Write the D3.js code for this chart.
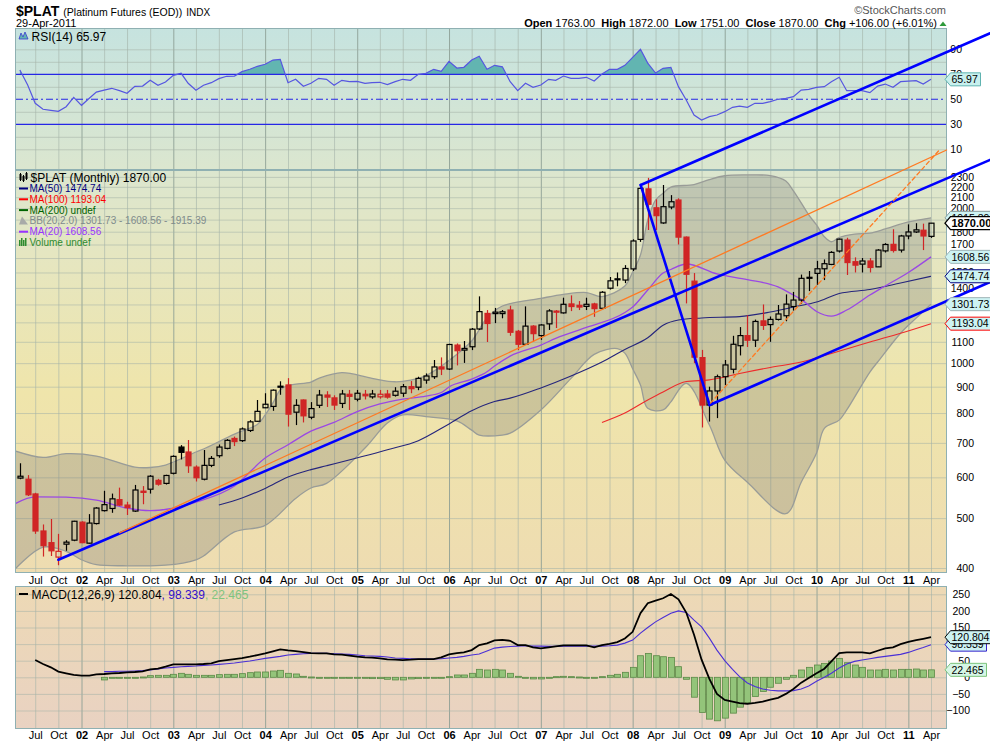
<!DOCTYPE html>
<html>
<head>
<meta charset="utf-8">
<script src="https://cdn.jsdelivr.net/npm/d3@7"></script>
<style>
  body { margin: 0; background: #fff; }
  svg { display: block; }
  svg text { font-family: "Liberation Sans", Arial, sans-serif; }
</style>
</head>
<body>
<script>
// $PLAT monthly candles, May 2001 .. Apr 2011
var candleStart = "2001-05";
var opens  = [598,595,557,472,448,420,445,453,
  491,447,488,517,522,543,530,516,564,569,592,584,
  611,687,672,628,595,633,661,683,714,707,740,771,
  819,824,902,907,803,848,785,828,867,856,835,870,
  851,870,860,860,871,866,874,900,898,927,941,983,
  974,1084,1060,1076,1165,1249,1248,1248,1268,1153,1088,1180,
  1131,1192,1262,1252,1303,1295,1289,1303,1278,1398,1458,1450,
  1524,1739,2180,2003,1872,2010,2074,1757,1443,1025,829,883,
  941,973,1081,1131,1108,1208,1188,1216,1236,1288,1326,1468,
  1494,1525,1555,1651,1734,1574,1557,1579,1538,1652,1701,1658,
  1766,1798,1812,1763];
var highs  = [639,606,560,486,498,466,453,494,
  493,509,525,565,558,573,538,580,577,606,596,607,
  662,693,709,633,678,660,695,712,720,750,775,848,
  874,889,922,935,851,850,840,887,882,866,887,887,
  887,887,887,887,887,898,911,923,941,955,1014,1026,
  1090,1092,1104,1170,1348,1268,1280,1268,1293,1160,1289,1185,
  1190,1273,1268,1340,1354,1320,1340,1310,1380,1470,1500,1550,
  1740,2195,2290,2080,2218,2120,2090,1762,1496,1061,900,950,
  1014,1130,1175,1239,1215,1300,1232,1297,1360,1375,1486,1510,
  1580,1590,1650,1745,1752,1605,1600,1600,1665,1710,1820,1775,
  1860,1870,1866,1872];
var lows   = [595,552,466,421,422,405,432,451,
  447,446,486,515,512,528,507,514,532,558,578,581,
  608,650,612,589,592,628,655,680,690,703,735,769,
  818,808,868,753,758,767,778,818,822,811,818,811,
  843,850,853,853,853,861,860,874,886,912,932,948,
  970,990,1001,1060,1160,1099,1196,1222,1130,1060,1085,1100,
  1110,1160,1170,1248,1262,1268,1268,1230,1270,1390,1410,1430,
  1510,1720,1814,1814,1865,1990,1700,1306,1000,750,770,782,
  907,955,1035,1075,1075,1160,1100,1210,1206,1265,1305,1380,
  1420,1450,1550,1640,1483,1500,1500,1500,1540,1640,1640,1640,
  1740,1790,1658,1751];
var closes = [603,555,472,442,432,431,449,493,
  448,489,523,531,545,530,524,567,561,603,582,605,
  659,671,632,599,633,653,687,708,704,745,769,806,
  832,886,899,796,828,790,816,867,859,829,871,862,
  874,864,871,870,859,882,900,892,934,944,983,974,
  1087,1057,1068,1164,1259,1194,1256,1258,1148,1088,1180,1141,
  1186,1263,1256,1301,1288,1285,1301,1276,1373,1445,1452,1527,
  1727,2185,2035,1934,2013,2058,1757,1488,1027,829,883,941,
  992,1088,1131,1108,1205,1184,1216,1246,1302,1326,1461,1463,
  1525,1560,1641,1741,1568,1550,1579,1534,1658,1700,1655,1766,
  1798,1815,1766,1870];

// RSI(14), May 2001 .. Apr 2011
var rsiStart = "2001-05";
var rsiValues = [73.4,61.4,46.8,42,41.2,40.4,44.1,51.6,
  45.2,50.8,55.8,57.4,58.8,56.9,54.8,60.4,60.6,65.2,61.2,63.8,
  69.2,70.8,62.8,57.2,61.2,63.3,66.5,68.4,68.6,72.1,74,76.4,
  78,81.4,82,63.3,66,60.4,62.8,66.8,66,61.2,65.2,64.1,
  64.4,62.8,63.3,63.6,61.7,64.1,66,65.2,70,70.8,74,72.4,
  80.4,75,75.6,81.4,84.4,74,77.2,76,64.1,56.9,62.8,59.6,
  61.4,66,65.2,68.6,66.8,66.8,67.6,64.6,70.2,74,74,77.2,
  83.5,90,79,71,74.8,75.6,60.1,49.4,37.4,33.4,36.1,37.4,
  40.1,43.6,44.6,43.6,46.8,46.8,48.1,50,50.8,52.1,57.4,58,
  59.6,60.1,64.1,67.6,56.9,56.9,56.9,55.3,60.6,62.2,59.6,64.1,
  64.6,64.9,62.2,65.97];

// MACD(12,26,9)
var macdStart = "2001-07";
var macdValues = [52,40,30,17,12,7,
  5,5,9,10,12,13,15,16,18,24,26,32,
  39,39,39,39,40,42,49,52,55,58,62,67,
  72,78,84,81,79,76,73,72,72,69,68,65,
  62,60,59,57,54,53,52,53,55,55,55,60,
  69,73,75,82,97,102,111,113,110,97,97,90,
  87,90,93,96,96,96,96,90,97,101,106,117,
  137,193,223,231,238,251,235,195,128,53,-5,-50,
  -68,-73,-78,-80,-77,-73,-67,-62,-50,-35,-16,-2,
  12,26,48,73,75,75,75,72,80,87,90,100,
  107,112,116,120.804];
var signalStart = "2002-04";
var signalValues = [17,17,18,18,19,20,22,25,28,
  30,32,33,34,36,37,39,41,43,46,49,53,
  57,60,63,67,69,71,72,72,72,71,70,69,
  67,65,64,63,61,58,57,56,55,55,55,56,
  58,60,63,67,70,79,88,91,93,94,95,94,
  94,93,93,94,94,94,94,94,94,95,97,103,
  112,133,150,167,180,193,200,195,172,152,118,82,
  50,24,2,-17,-28,-35,-39,-41,-41,-40,-35,-26,
  -12,0,12,28,40,48,52,56,60,63,66,69,
  75,83,90,98.339];
var histValues = [-8,-3,-3,-3,-1,1,5,6,6,
  9,12,9,6,6,6,8,9,9,11,14,16,
  16,19,21,12,10,3,1,0,0,-1,-1,-1,
  -3,-3,-4,-4,-6,-8,-8,-5,-4,-2,-2,-1,
  2,7,7,12,24,22,24,22,12,3,0,-5,
  -5,-2,2,3,2,1,0,-3,2,6,9,15,
  30,65,72,65,62,60,32,-6,-60,-106,-126,-131,
  -123,-108,-90,-76,-58,-43,-30,-18,-6,6,22,30,
  37,42,49,57,44,37,30,22,22,24,22,24,
  24,25,22,22.465];

// overlays, read at the months where the line could be read
var ma20 = [["2001-04",530],["2001-07",550],["2001-11",549],["2002-03",542],["2002-07",523],
  ["2002-10",517],["2003-01",523],["2003-04",537],["2003-09",577],["2004-01",654],["2004-04",694],
  ["2004-07",738],["2004-10",767],["2005-01",805],["2005-04",833],["2005-07",851],["2005-10",863],
  ["2005-12",877],["2006-01",899],["2006-04",931],["2006-06",962],["2006-07",987],["2006-09",1032],
  ["2007-01",1084],["2007-03",1117],["2007-07",1173],["2007-12",1254],["2008-01",1285],["2008-03",1387],
  ["2008-05",1496],["2008-06",1520],["2008-08",1558],["2008-12",1490],["2009-04",1453],["2009-08",1406],
  ["2009-10",1356],["2009-11",1330],["2010-01",1260],["2010-03",1234],["2010-05",1268],["2010-08",1356],
  ["2010-10",1412],["2011-01",1500],["2011-04",1608.56]];
var ma50 = [["2003-07",530],["2003-10",547],["2004-01",571],["2004-04",601],["2004-07",621],
  ["2004-09",632],["2005-05",679],["2005-09",707],["2006-01",762],["2006-04",808],["2006-07",842],
  ["2006-09",855],["2007-01",895],["2007-05",944],["2007-09",1005],["2007-12",1063],["2008-03",1120],
  ["2008-05",1185],["2008-07",1213],["2008-10",1224],["2009-03",1231],["2009-07",1257],["2009-10",1285],
  ["2010-01",1314],["2010-04",1365],["2010-08",1390],["2010-12",1431],["2011-04",1474.74]];
var ma100 = [["2007-09",767],["2007-12",800],["2008-03",848],["2008-05",879],["2008-08",921],
  ["2008-11",928],["2009-03",955],["2009-07",981],["2009-11",1005],["2010-03",1044],["2010-08",1099],
  ["2010-12",1143],["2011-04",1193.04]];
var bbUpper = [["2001-04",678],["2001-08",656],["2001-11",667],["2002-03",660],["2002-08",628],
  ["2002-10",627],["2002-12",634],["2003-04",672],["2003-05",681],["2003-09",728],["2003-12",760],
  ["2004-01",793],["2004-02",837],["2004-03",887],["2004-04",905],["2004-07",919],["2004-08",934],
  ["2004-11",958],["2005-03",934],["2005-06",920],["2005-08",927],["2005-10",946],["2006-01",1012],
  ["2006-04",1104],["2006-06",1224],["2006-08",1291],["2007-01",1336],["2007-04",1360],["2007-07",1371],
  ["2007-09",1347],["2007-12",1412],["2008-01",1503],["2008-02",1622],["2008-03",1897],["2008-04",2074],
  ["2008-05",2138],["2008-06",2198],["2008-09",2222],["2008-11",2273],["2009-01",2312],["2009-04",2320],
  ["2009-07",2313],["2009-09",2258],["2009-10",2160],["2009-11",2048],["2009-12",1940],["2010-01",1855],
  ["2010-02",1760],["2010-03",1721],["2010-04",1754],["2010-06",1781],["2010-08",1789],["2010-10",1822],
  ["2011-01",1880],["2011-04",1915.39]];
var bbLower = [["2001-04",393],["2001-08",439],["2001-11",431],["2002-01",415],["2002-03",406],
  ["2002-07",404],["2002-12",405],["2003-04",415],["2003-05",422],["2003-09",470],["2004-01",484],
  ["2004-05",546],["2004-07",572],["2004-09",584],["2005-02",684],["2005-05",765],["2005-07",793],
  ["2005-10",787],["2006-02",772],["2006-04",741],["2006-05",725],["2006-08",725],["2006-09",731],
  ["2007-01",811],["2007-05",934],["2007-08",1040],["2007-11",1067],["2007-12",1046],["2008-01",975],
  ["2008-02",907],["2008-03",817],["2008-05",811],["2008-06",841],["2008-08",914],["2008-11",758],
  ["2009-01",648],["2009-04",587],["2009-09",510],["2009-11",587],["2010-01",669],["2010-02",747],
  ["2010-04",775],["2010-05",811],["2010-08",961],["2010-09",1005],["2010-12",1143],["2011-02",1223],
  ["2011-04",1301.73]];

// hand drawn annotations: [date, price] end points
var trendLines = [
  { from: ["2001-10-01", 415],  to: ["2011-11-22", 2482], color: "#0000ff", width: 2.6 },
  { from: ["2008-02-02", 2218], to: ["2011-11-22", 4372], color: "#0000ff", width: 2.6 },
  { from: ["2008-02-02", 2218], to: ["2008-11-02", 829],  color: "#0000ff", width: 2.6 },
  { from: ["2008-11-02", 829],  to: ["2011-11-22", 1437], color: "#0000ff", width: 2.6 },
  { from: ["2002-06-01", 468],  to: ["2011-06-02", 2594], color: "#ff7a22", width: 1.3 },
  { from: ["2008-11-05", 836],  to: ["2011-05-07", 2602], color: "#ff7a22", width: 1.3, dash: "4,3" }
];

// axis labels (levels that sit under a value tag are left out, as in the picture)
var priceGrid  = [400,500,600,700,800,900,1000,1100,1200,1300,1400,1500,1600,1700,1800,1900,2000,2100,2200,2300];
var priceTicks = [400,500,600,700,800,900,1000,1100,1400,1500,1700,1800,2000,2100,2200,2300];
var rsiTicks = [90,70,50,30,10];
var rsiGrid = [10,20,40,60,80,90];
var macdGrid  = [250,200,150,100,50,0,-50,-100];
var macdTicks = [250,200,150,50,0,-50,-100];
var headerLabels = ["Open","High","Low","Close","Chg"];
var headerValues = ["1763.00","1872.00","1751.00","1870.00","+106.00 (+6.01%)"];
var monthNames = ["Jan","Feb","Mar","Apr","May","Jun","Jul","Aug","Sep","Oct","Nov","Dec"];

var parseM = d3.timeParse("%Y-%m");
var parseD = d3.timeParse("%Y-%m-%d");
function monthSeq(start, n) {
  return d3.range(n).map(function (i) { return d3.timeMonth.offset(parseM(start), i); });
}
function pairs(arr) { return arr.map(function (p) { return { date: parseM(p[0]), v: p[1] }; }); }

// layout
var L = 16, R = 946;
var rsiTop = 29, rsiBot = 170, mainTop = 170, mainBot = 572, macdTop = 587, macdBot = 728;

var x  = d3.scaleTime().domain([new Date(2002, 0, 1), new Date(2011, 3, 1)]).range([81.5, 931]);
var yR = d3.scaleLinear().domain([0, 100]).range([161.8, 36.8]);
var yP = d3.scaleLog().domain([400, 2300]).range([568, 176.9]);
var yM = d3.scaleLinear().domain([-100, 250]).range([710.5, 594.3]);

var svg = d3.select("body").append("svg").attr("width", 990).attr("height", 744);
var defs = svg.append("defs");

var grad = defs.append("linearGradient").attr("id", "bg")
  .attr("gradientUnits", "userSpaceOnUse")
  .attr("x1", 0).attr("y1", rsiTop).attr("x2", 0).attr("y2", macdBot);
[[0, "#c6e3df"], [0.2, "#dbe6cf"], [0.32, "#e5e6c1"], [0.52, "#efe5ab"],
 [0.777, "#eedcb1"], [0.8, "#edd9b5"], [1, "#e9d2c2"]].forEach(function (s) {
  grad.append("stop").attr("offset", s[0]).attr("stop-color", s[1]);
});

function clip(id, top, bot) {
  defs.append("clipPath").attr("id", id).append("rect")
    .attr("x", L).attr("y", top).attr("width", R - L).attr("height", bot - top);
}
clip("cRsi", rsiTop, rsiBot);
clip("cMain", mainTop, mainBot);
clip("cMacd", macdTop, macdBot);
defs.append("clipPath").attr("id", "cRsiHi").append("rect")
  .attr("x", L).attr("y", rsiTop).attr("width", R - L).attr("height", yR(70) - rsiTop);

// panel backgrounds
[[rsiTop, rsiBot], [mainTop, mainBot], [macdTop, macdBot]].forEach(function (p) {
  svg.append("rect").attr("x", L).attr("y", p[0]).attr("width", R - L).attr("height", p[1] - p[0])
    .attr("fill", "url(#bg)");
});

// grid
var quarters = d3.timeMonth.every(3).range(new Date(2001, 6, 1), new Date(2011, 4, 1));
function vGrid(top, bot) {
  var g = svg.append("g").attr("transform", "translate(0," + top + ")")
    .call(d3.axisBottom(x).tickValues(quarters).tickSize(bot - top).tickFormat(""));
  g.select(".domain").remove();
  g.selectAll(".tick line")
    .attr("stroke", function (d) { return d.getMonth() === 0 ? "#8a9c92" : "#a4b2a8"; })
    .attr("stroke-opacity", function (d) { return d.getMonth() === 0 ? 0.85 : 0.6; });
}
function hGrid(scale, ticks) {
  var g = svg.append("g").attr("transform", "translate(" + R + ",0)")
    .call(d3.axisLeft(scale).tickValues(ticks).tickSize(R - L).tickFormat(""));
  g.select(".domain").remove();
  g.selectAll(".tick line").attr("stroke", "#a4b2a8").attr("stroke-opacity", 0.55);
}
vGrid(rsiTop, rsiBot); hGrid(yR, rsiGrid);
vGrid(mainTop, mainBot); hGrid(yP, priceGrid);
vGrid(macdTop, macdBot); hGrid(yM, macdGrid);

// ---------- RSI panel ----------
var rsi = monthSeq(rsiStart, rsiValues.length).map(function (d, i) { return { date: d, v: rsiValues[i] }; });
var gR = svg.append("g").attr("clip-path", "url(#cRsi)");
gR.append("path").datum(rsi)
  .attr("clip-path", "url(#cRsiHi)")
  .attr("fill", "#62b5b1")
  .attr("d", d3.area().x(function (d) { return x(d.date); }).y0(yR(70)).y1(function (d) { return yR(d.v); }));
[70, 30].forEach(function (v) {
  gR.append("line").attr("x1", L).attr("x2", R).attr("y1", yR(v)).attr("y2", yR(v))
    .attr("stroke", "#2626e6").attr("stroke-width", 1.2);
});
gR.append("line").attr("x1", L).attr("x2", R).attr("y1", yR(50)).attr("y2", yR(50))
  .attr("stroke", "#2626e6").attr("stroke-width", 1.1).attr("stroke-dasharray", "7,3,2,3");
gR.append("path").datum(rsi).attr("fill", "none").attr("stroke", "#5656e0").attr("stroke-width", 1.2)
  .attr("d", d3.line().x(function (d) { return x(d.date); }).y(function (d) { return yR(d.v); }));

// ---------- main panel ----------
var gP = svg.append("g").attr("clip-path", "url(#cMain)");
var curve = d3.curveCatmullRom.alpha(0.5);
var upper = pairs(bbUpper), lower = pairs(bbLower);
var bandLine = d3.line().curve(curve).x(function (d) { return x(d.date); }).y(function (d) { return yP(d.v); });
var upPath = bandLine(upper);
var lowRevPath = bandLine(lower.slice().reverse());
gP.append("path").attr("d", upPath + "L" + lowRevPath.slice(1) + "Z")
  .attr("fill", "#707070").attr("fill-opacity", 0.27);
[upPath, bandLine(lower)].forEach(function (d) {
  gP.append("path").attr("d", d).attr("fill", "none").attr("stroke", "#999c98").attr("stroke-width", 1.3);
});

var maLine = d3.line().curve(d3.curveMonotoneX)
  .x(function (d) { return x(d.date); }).y(function (d) { return yP(d.v); });
[[ma50, "#25257c", 1.1], [ma100, "#ee2b2b", 1.1], [ma20, "#9a48e4", 1.3]].forEach(function (m) {
  gP.append("path").datum(pairs(m[0])).attr("d", maLine)
    .attr("fill", "none").attr("stroke", m[1]).attr("stroke-width", m[2]);
});

var candles = monthSeq(candleStart, closes.length).map(function (d, i) {
  return { date: d, o: opens[i], h: highs[i], l: lows[i], c: closes[i], prev: i ? closes[i - 1] : opens[i] };
});
candles.forEach(function (c) {
  c.xc = Math.round(x(c.date));
  c.col = c.c < c.prev ? "#d02525" : "#000";
  c.top = yP(Math.max(c.o, c.c));
  c.bot = yP(Math.min(c.o, c.c));
});
var cg = gP.selectAll(".candle").data(candles).enter().append("g").attr("class", "candle");
cg.append("line").attr("x1", function (c) { return c.xc + 0.5; }).attr("x2", function (c) { return c.xc + 0.5; })
  .attr("y1", function (c) { return yP(c.h); }).attr("y2", function (c) { return c.top; })
  .attr("stroke", function (c) { return c.col; }).attr("stroke-width", 1.2);
cg.append("line").attr("x1", function (c) { return c.xc + 0.5; }).attr("x2", function (c) { return c.xc + 0.5; })
  .attr("y1", function (c) { return c.bot; }).attr("y2", function (c) { return yP(c.l); })
  .attr("stroke", function (c) { return c.col; }).attr("stroke-width", 1.2);
cg.append("rect")
  .attr("x", function (c) { return c.xc - 2; }).attr("width", 5)
  .attr("y", function (c) { return c.top; })
  .attr("height", function (c) { return Math.max(1, c.bot - c.top); })
  .attr("fill", function (c) { return c.c >= c.o ? "none" : c.col; })
  .attr("stroke", function (c) { return c.col; }).attr("stroke-width", 1.2);

// ---------- MACD panel ----------
var gM = svg.append("g").attr("clip-path", "url(#cMacd)");
var histDates = monthSeq(signalStart, histValues.length);
gM.selectAll(".hb").data(histValues).enter().append("rect")
  .attr("x", function (v, i) { return Math.round(x(histDates[i])) - 2.5; })
  .attr("width", 6)
  .attr("y", function (v) { return Math.min(yM(v), yM(0)); })
  .attr("height", function (v) { return Math.max(1, Math.abs(yM(v) - yM(0))); })
  .attr("fill", "#93c47a").attr("stroke", "#5c8a47").attr("stroke-width", 0.8);
var macd = monthSeq(macdStart, macdValues.length).map(function (d, i) { return { date: d, v: macdValues[i] }; });
var sig = monthSeq(signalStart, signalValues.length).map(function (d, i) { return { date: d, v: signalValues[i] }; });
var mLine = d3.line().x(function (d) { return x(d.date); }).y(function (d) { return yM(d.v); });
gM.append("path").datum(sig).attr("d", mLine).attr("fill", "none").attr("stroke", "#4a2fd6").attr("stroke-width", 1.1);
gM.append("path").datum(macd).attr("d", mLine).attr("fill", "none").attr("stroke", "#000").attr("stroke-width", 1.8);

// panel borders
[[rsiTop, rsiBot], [mainTop, mainBot], [macdTop, macdBot]].forEach(function (p) {
  svg.append("rect").attr("x", L - 0.5).attr("y", p[0] - 0.5).attr("width", R - L + 1).attr("height", p[1] - p[0] + 1)
    .attr("fill", "none").attr("stroke", "#8fb0b2");
});

// ---------- axes ----------
function rightLabels(scale, ticks, xEnd, fmt) {
  var g = svg.append("g").attr("transform", "translate(" + R + ",0)")
    .call(d3.axisRight(scale).tickValues(ticks).tickSize(0).tickFormat(fmt));
  g.select(".domain").remove();
  g.attr("font-size", 10.5).attr("font-family", null);
  g.selectAll("text").attr("x", xEnd - R).attr("text-anchor", "end").attr("fill", "#000");
}
rightLabels(yR, rsiTicks, 962, d3.format("d"));
rightLabels(yP, priceTicks, 974, d3.format("d"));
rightLabels(yM, macdTicks, 970, d3.format("d"));

function xLabels(yPos, pad) {
  var g = svg.append("g").attr("transform", "translate(0," + yPos + ")")
    .call(d3.axisBottom(x).tickValues(quarters).tickSize(0).tickPadding(pad)
      .tickFormat(function (d) { return d.getMonth() === 0 ? d3.timeFormat("%y")(d) : monthNames[d.getMonth()]; }));
  g.select(".domain").remove();
  g.attr("font-size", 11).attr("font-family", null);
  g.selectAll("text").attr("fill", "#000")
    .style("font-weight", function (d) { return d.getMonth() === 0 ? "bold" : "normal"; });
}
xLabels(mainBot, 4);
xLabels(macdBot, 3.3);

// ---------- header ----------
var t1 = svg.append("text").attr("x", 16).attr("y", 16).text("$PLAT")
  .style("font-size", "14px").style("font-weight", "bold");
var x1 = 16 + t1.node().getComputedTextLength() + 4;
var t2 = svg.append("text").attr("x", x1).attr("y", 16).text("(Platinum Futures (EOD))").style("font-size", "10.5px");
var x2 = x1 + t2.node().getComputedTextLength() + 4;
svg.append("text").attr("x", x2).attr("y", 16).text("INDX").style("font-size", "10px");
svg.append("text").attr("x", 16).attr("y", 27).text("29-Apr-2011").style("font-size", "11px");
svg.append("text").attr("x", 946).attr("y", 14).attr("text-anchor", "end").text("\u00a9StockCharts.com")
  .style("font-size", "11px").attr("fill", "#555");
var head = svg.append("text").attr("x", 937).attr("y", 27).attr("text-anchor", "end")
  .style("font-size", "11px").style("white-space", "pre");
headerLabels.forEach(function (lab, i) {
  head.append("tspan").text(lab).style("font-weight", "bold");
  head.append("tspan").text(" " + headerValues[i] + (i < headerLabels.length - 1 ? "  " : ""));
});
svg.append("path").attr("d", "M939.5,26 L946.5,26 L943,21.5 Z").attr("fill", "#2e9a3a");

// ---------- legends ----------
svg.append("path").attr("d", "M19,39 L21,33 L23,37 L25,32 L28,39 Z").attr("fill", "#62b5b1").attr("stroke", "#3a3ad0").attr("stroke-width", 0.8);
svg.append("text").attr("x", 31.5).attr("y", 40.5).text("RSI(14) 65.97").style("font-size", "12px");

// price glyph
[[20, 174, 180], [23, 176, 181], [26, 173, 179]].forEach(function (b) {
  svg.append("line").attr("x1", b[0] + 0.5).attr("x2", b[0] + 0.5).attr("y1", b[1] - 1).attr("y2", b[2] + 1).attr("stroke", "#000");
  svg.append("rect").attr("x", b[0] - 0.5).attr("y", b[1]).attr("width", 2).attr("height", b[2] - b[1]).attr("fill", "#000");
});
svg.append("text").attr("x", 30.5).attr("y", 181.5).text("$PLAT (Monthly) 1870.00").style("font-size", "12px");
var legendRows = [
  { t: "MA(50) 1474.74", c: "#000080", m: "dash" },
  { t: "MA(100) 1193.04", c: "#ff0000", m: "dash" },
  { t: "MA(200) undef", c: "#006400", m: "dash" },
  { t: "BB(20,2.0) 1301.73 - 1608.56 - 1915.39", c: "#7f8b8c", m: "bb" },
  { t: "MA(20) 1608.56", c: "#9933ff", m: "dash" },
  { t: "Volume undef", c: "#2e8b2e", m: "vol" }
];
legendRows.forEach(function (r, i) {
  var by = 192 + i * 10.8;
  if (r.m === "dash") {
    svg.append("rect").attr("x", 19).attr("y", by - 4.5).attr("width", 9).attr("height", 2).attr("fill", r.c);
  } else if (r.m === "bb") {
    svg.append("path").attr("d", "M19," + by + " L22," + (by - 8) + " L25," + (by - 4) + " L28," + by + " Z").attr("fill", "#a8aaa8");
  } else {
    [0, 2, 4, 6].forEach(function (k, j) {
      svg.append("rect").attr("x", 19 + k).attr("y", by - 4 - (j % 2 ? 4 : 2)).attr("width", 1.5)
        .attr("height", j % 2 ? 8 : 6).attr("fill", r.c);
    });
  }
  svg.append("text").attr("x", 29.5).attr("y", by).text(r.t).style("font-size", "10px").attr("fill", r.c);
});

svg.append("rect").attr("x", 19).attr("y", 593).attr("width", 9).attr("height", 2).attr("fill", "#000");
var ml = svg.append("text").attr("x", 31.5).attr("y", 598.5).style("font-size", "12px");
ml.append("tspan").text("MACD(12,26,9) 120.804");
ml.append("tspan").text(", 98.339").attr("fill", "#3311cc");
ml.append("tspan").text(", 22.465").attr("fill", "#7fc47f");

// ---------- annotations ----------
trendLines.forEach(function (t) {
  svg.append("line")
    .attr("x1", x(parseD(t.from[0]))).attr("y1", yP(t.from[1]))
    .attr("x2", x(parseD(t.to[0]))).attr("y2", yP(t.to[1]))
    .attr("stroke", t.color).attr("stroke-width", t.width)
    .attr("stroke-dasharray", t.dash || null).attr("stroke-linecap", "round");
});

// ---------- value tags ----------
function tag(yPos, text, bg, stroke, bold) {
  var g = svg.append("g");
  var t = g.append("text").attr("x", 951.5).attr("y", yPos + 3.7).text(text)
    .style("font-size", bold ? "11px" : "10.5px").style("font-weight", bold ? "bold" : "normal");
  var w = t.node().getComputedTextLength();
  var xr = Math.round(951.5 + w + 2.5) + 0.5;
  g.insert("path", "text")
    .attr("d", "M945," + yPos + " L950.5," + (yPos - 6.5) + " H" + xr + " V" + (yPos + 6.5) + " H950.5 Z")
    .attr("fill", bg).attr("stroke", stroke).attr("stroke-width", bold ? 1.3 : 1);
}
tag(yR(65.97), "65.97", "#c8f0ee", "#5fb3b0");
tag(yP(1915.39), "1915.39", "#cdf3f3", "#8a9a9a");
tag(yP(1608.56), "1608.56", "#cdf3f3", "#9fb4b6");
tag(yP(1474.74), "1474.74", "#cdf3f3", "#000080");
tag(yP(1301.73), "1301.73", "#cdf3f3", "#9fb4b6");
tag(yP(1193.04), "1193.04", "#cdf3f3", "#ff0000");
tag(yP(1870), "1870.00", "#ffffff", "#000000", true);
tag(yM(22.465), "22.465", "#d6f6e6", "#7cc47c");
tag(yM(98.339), "98.339", "#cdf3f3", "#3322cc");
tag(yM(120.804), "120.804", "#cdf3f3", "#000000");
</script>
</body>
</html>
